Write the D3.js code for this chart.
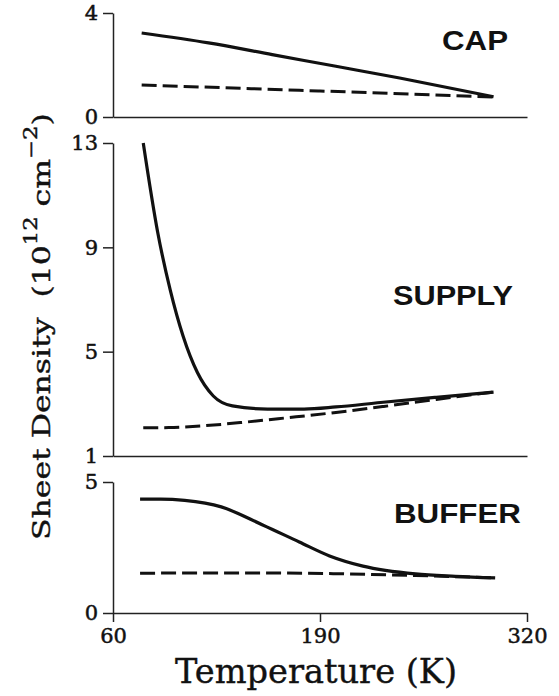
<!DOCTYPE html>
<html>
<head>
<meta charset="utf-8">
<script src="https://cdn.jsdelivr.net/npm/d3@7"></script>
<style>
  html, body { margin: 0; padding: 0; background: #fff; }
  svg { display: block; }
  .axis path, .axis line { stroke: #222; stroke-width: 1.5; }
  .axis text { font-family: "DejaVu Serif", serif; fill: #111; stroke: #111; stroke-width: 0.5; }
  .tag { font-family: "Liberation Sans", Arial, sans-serif; font-weight: bold; fill: #111; }
  .title { font-family: "DejaVu Serif", serif; fill: #111; stroke: #111; stroke-width: 0.4; white-space: pre; }
</style>
</head>
<body>
<svg id="chart" width="559" height="696"></svg>
<script>
// Sheet density (10^12 cm^-2) vs temperature (K)

// CAP layer
var capSolidT = [78, 120, 160, 200, 240, 299];
var capSolid  = [3.23, 2.85, 2.4, 1.95, 1.5, 0.78];
var capDashT  = [78, 190, 299];
var capDash   = [1.23, 1.0, 0.77];

// SUPPLY layer
var supSolidT = [79, 88, 96, 104, 113, 123, 135, 157, 180, 200, 228, 263, 299];
var supSolid  = [13, 9.6, 7.35, 5.6, 4.2, 3.3, 2.92, 2.8, 2.8, 2.88, 3.05, 3.25, 3.45];
var supDashT  = [79, 95, 115, 140, 170, 200, 230, 263, 299];
var supDash   = [2.08, 2.09, 2.15, 2.28, 2.47, 2.67, 2.9, 3.17, 3.45];

// BUFFER layer
var bufSolidT = [77, 90, 105, 128, 154, 177, 196, 217, 250, 275, 300];
var bufSolid  = [4.35, 4.35, 4.3, 4.05, 3.36, 2.71, 2.18, 1.79, 1.49, 1.4, 1.34];
var bufDashT  = [77, 150, 200, 250, 300];
var bufDash   = [1.52, 1.53, 1.5, 1.43, 1.34];

var xDomain = [60, 320];
var xTicks = [60, 190, 320];

var panels = [
  { name: "CAP", yDomain: [0, 4], yTicks: [0, 4], top: 13, bottom: 117,
    solid: [capSolidT, capSolid], dash: [capDashT, capDash],
    tag: { x: 442, y: 50, w: 66 } },
  { name: "SUPPLY", yDomain: [1, 13], yTicks: [1, 5, 9, 13], top: 143, bottom: 456,
    solid: [supSolidT, supSolid], dash: [supDashT, supDash],
    tag: { x: 393, y: 305, w: 120 } },
  { name: "BUFFER", yDomain: [0, 5], yTicks: [0, 5], top: 482, bottom: 613,
    solid: [bufSolidT, bufSolid], dash: [bufDashT, bufDash],
    tag: { x: 394, y: 523, w: 127 }, xLabels: true }
];

var svg = d3.select("#chart");
svg.append("rect").attr("width", 559).attr("height", 696).attr("fill", "#fff");

var x = d3.scaleLinear().domain(xDomain).range([113, 527]);

function zip(t, v) {
  return t.map(function(d, i) { return { t: d, v: v[i] }; });
}

panels.forEach(function(p) {
  var y = d3.scaleLinear().domain(p.yDomain).range([p.bottom, p.top]);
  var g = svg.append("g").attr("class", "panel");

  // bottom axis (ticks + labels only on the lowest panel)
  var xAxis = d3.axisBottom(x)
    .tickValues(p.xLabels ? xTicks : [])
    .tickSize(9)
    .tickSizeOuter(0)
    .tickPadding(6);
  g.append("g")
    .attr("class", "axis x")
    .attr("transform", "translate(0," + p.bottom + ")")
    .call(xAxis)
    .selectAll("text").style("font-size", "21px");

  var yAxis = d3.axisLeft(y)
    .tickValues(p.yTicks)
    .tickSize(10)
    .tickSizeOuter(0)
    .tickPadding(5)
    .tickFormat(d3.format("d"));
  g.append("g")
    .attr("class", "axis y")
    .attr("transform", "translate(" + x(xDomain[0]) + ",0)")
    .call(yAxis)
    .selectAll("text").style("font-size", "21px");

  g.selectAll(".axis .domain").attr("fill", "none");

  var line = d3.line()
    .x(function(d) { return x(d.t); })
    .y(function(d) { return y(d.v); })
    .curve(d3.curveMonotoneX);

  g.append("path")
    .datum(zip(p.dash[0], p.dash[1]))
    .attr("d", line)
    .attr("fill", "none")
    .attr("stroke", "#111")
    .attr("stroke-width", 3)
    .attr("stroke-dasharray", "15,6");

  g.append("path")
    .datum(zip(p.solid[0], p.solid[1]))
    .attr("d", line)
    .attr("fill", "none")
    .attr("stroke", "#111")
    .attr("stroke-width", 3.2);

  g.append("text")
    .attr("class", "tag")
    .attr("x", p.tag.x)
    .attr("y", p.tag.y)
    .attr("textLength", p.tag.w)
    .attr("lengthAdjust", "spacingAndGlyphs")
    .style("font-size", "27px")
    .text(p.name);
});

// y title, rotated; stretched along its baseline to the length in the figure
var yTitle = svg.append("text")
  .attr("class", "title")
  .style("font-size", "25px");
yTitle.append("tspan").text("Sheet Density  (10");
yTitle.append("tspan").attr("dy", -13).style("font-size", "18px").text("12");
yTitle.append("tspan").attr("dy", 13).text(" cm");
yTitle.append("tspan").attr("dy", -13).style("font-size", "18px").text("\u22122");
yTitle.append("tspan").attr("dy", 13).text(")");
var natural = yTitle.node().getComputedTextLength();
yTitle.attr("transform", "translate(50,540) rotate(-90) scale(" + (427 / natural) + ",1)");

svg.append("text")
  .attr("class", "title")
  .attr("x", 316)
  .attr("y", 683)
  .attr("text-anchor", "middle")
  .attr("textLength", 282)
  .attr("lengthAdjust", "spacingAndGlyphs")
  .style("font-size", "33px")
  .text("Temperature (K)");
</script>
</body>
</html>
